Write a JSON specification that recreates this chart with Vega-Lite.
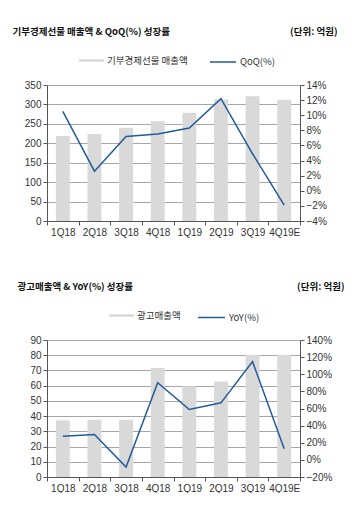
{
  "$schema": "https://vega.github.io/schema/vega-lite/v6.json",
  "padding": {"left": 12, "top": 26, "right": 0, "bottom": 0},
  "background": "white",
  "datasets": {
    "gift": [
      {"q": "1Q18", "sales": 218.7, "qoq": 10.5},
      {"q": "2Q18", "sales": 224, "qoq": 2.6},
      {"q": "3Q18", "sales": 240, "qoq": 7.2},
      {"q": "4Q18", "sales": 257, "qoq": 7.5},
      {"q": "1Q19", "sales": 278.5, "qoq": 8.3},
      {"q": "2Q19", "sales": 313, "qoq": 12.2},
      {"q": "3Q19", "sales": 321, "qoq": 4.9},
      {"q": "4Q19E", "sales": 312, "qoq": -1.9}
    ],
    "ad": [
      {"q": "1Q18", "sales": 37.2, "yoy": 27.7},
      {"q": "2Q18", "sales": 37.6, "yoy": 29.7},
      {"q": "3Q18", "sales": 37.6, "yoy": -8.4},
      {"q": "4Q18", "sales": 71.6, "yoy": 90.2},
      {"q": "1Q19", "sales": 59.6, "yoy": 58.8},
      {"q": "2Q19", "sales": 62.7, "yoy": 66.6},
      {"q": "3Q19", "sales": 80.2, "yoy": 114.7},
      {"q": "4Q19E", "sales": 80.2, "yoy": 13}
    ]
  },
  "spacing": 44,
  "resolve": {"scale": {"fill": "independent", "stroke": "independent"}, "legend": {"fill": "independent", "stroke": "independent"}},
  "vconcat": [
    {
      "width": 253,
      "height": 136,
      "data": {"name": "gift"},
      "encoding": {
        "x": {"field": "q", "type": "ordinal", "sort": null,
              "scale": {"paddingInner": 0, "paddingOuter": 0},
              "axis": {"title": null, "labelAngle": 0, "tickBand": "extent", "labelPadding": 2}}
      },
      "layer": [
        {
          "mark": {"type": "bar", "width": {"band": 0.44}},
          "encoding": {
            "y": {"field": "sales", "type": "quantitative",
                  "scale": {"domain": [0, 350], "nice": false},
                  "axis": {"orient": "left", "values": [0, 50, 100, 150, 200, 250, 300, 350], "grid": true,
                           "title": "기부경제선물 매출액 & QoQ(%) 성장률", "titleAngle": 0, "titleAlign": "left",
                           "titleBaseline": "middle", "titleX": -35, "titleY": -54}},
            "fill": {"datum": "기부경제선물 매출액", "type": "nominal", "scale": {"range": ["#d9d9d9"]},
                     "legend": {"orient": "none", "legendX": 32, "legendY": -37, "title": null,
                                "symbolType": "M-1,-0.1H1V0.1H-1Z", "symbolSize": 625, "symbolStrokeWidth": 0, "labelOffset": 3}}
          }
        },
        {
          "mark": {"type": "line", "strokeWidth": 1.5},
          "encoding": {
            "y": {"field": "qoq", "type": "quantitative",
                  "scale": {"domain": [-4, 14], "nice": false},
                  "axis": {"orient": "right", "values": [-4, -2, 0, 2, 4, 6, 8, 10, 12, 14], "grid": false,
                           "labelExpr": "format(datum.value, 'd') + '%'",
                           "title": "(단위: 억원)", "titleAngle": 0, "titleAlign": "right",
                           "titleBaseline": "middle", "titleX": 37, "titleY": -54}},
            "stroke": {"datum": "QoQ(%)", "type": "nominal", "scale": {"range": ["#1f5c99"]},
                       "legend": {"orient": "none", "legendX": 162, "legendY": -37, "title": null,
                                  "symbolType": "stroke", "symbolSize": 676, "symbolStrokeWidth": 1.5, "labelOffset": 3}}
          }
        }
      ],
      "resolve": {"scale": {"y": "independent"}}
    },
    {
      "width": 253,
      "height": 137,
      "data": {"name": "ad"},
      "encoding": {
        "x": {"field": "q", "type": "ordinal", "sort": null,
              "scale": {"paddingInner": 0, "paddingOuter": 0},
              "axis": {"title": null, "labelAngle": 0, "tickBand": "extent", "labelPadding": 2}}
      },
      "layer": [
        {
          "mark": {"type": "bar", "width": {"band": 0.44}},
          "encoding": {
            "y": {"field": "sales", "type": "quantitative",
                  "scale": {"domain": [0, 90], "nice": false},
                  "axis": {"orient": "left", "values": [0, 10, 20, 30, 40, 50, 60, 70, 80, 90], "grid": true,
                           "title": "광고매출액 & YoY(%) 성장률", "titleAngle": 0, "titleAlign": "left",
                           "titleBaseline": "middle", "titleX": -30, "titleY": -54}},
            "fill": {"datum": "광고매출액", "type": "nominal", "scale": {"range": ["#d9d9d9"]},
                     "legend": {"orient": "none", "legendX": 62, "legendY": -37, "title": null,
                                "symbolType": "M-1,-0.1H1V0.1H-1Z", "symbolSize": 625, "symbolStrokeWidth": 0, "labelOffset": 3}}
          }
        },
        {
          "mark": {"type": "line", "strokeWidth": 1.5},
          "encoding": {
            "y": {"field": "yoy", "type": "quantitative",
                  "scale": {"domain": [-20, 140], "nice": false},
                  "axis": {"orient": "right", "values": [-20, 0, 20, 40, 60, 80, 100, 120, 140], "grid": false,
                           "labelExpr": "format(datum.value, 'd') + '%'",
                           "title": "(단위: 억원)", "titleAngle": 0, "titleAlign": "right",
                           "titleBaseline": "middle", "titleX": 44, "titleY": -54}},
            "stroke": {"datum": "YoY(%)", "type": "nominal", "scale": {"range": ["#1f5c99"]},
                       "legend": {"orient": "none", "legendX": 150, "legendY": -37, "title": null,
                                  "symbolType": "stroke", "symbolSize": 729, "symbolStrokeWidth": 1.5, "labelOffset": 3}}
          }
        }
      ],
      "resolve": {"scale": {"y": "independent"}}
    }
  ],
  "config": {
    "view": {"stroke": null},
    "axis": {
      "labelFont": "Liberation Sans", "labelFontSize": 10, "labelColor": "#333333",
      "domainColor": "#555555", "tickColor": "#555555", "tickSize": 4,
      "gridColor": "#a6a6a6", "gridWidth": 1,
      "titleFont": "Noto Sans CJK KR", "titleFontSize": 9.5, "titleFontWeight": "bold", "titleColor": "#111111"
    },
    "legend": {"labelFont": "Noto Sans CJK KR", "labelFontSize": 9.5, "labelColor": "#333333", "padding": 0}
  }
}
